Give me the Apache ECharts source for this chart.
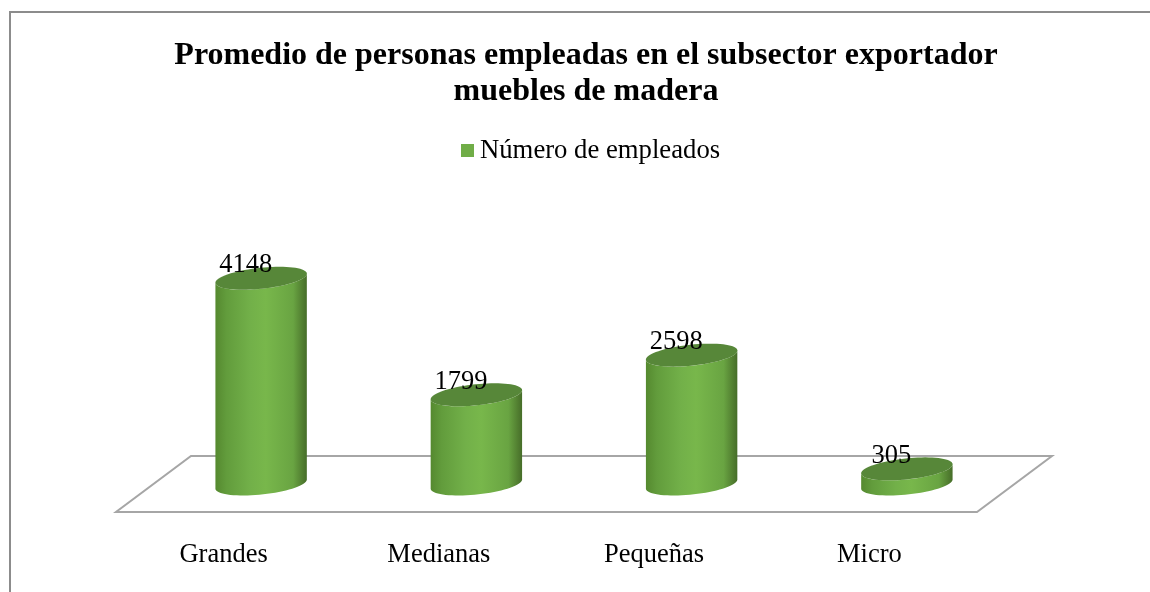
<!DOCTYPE html>
<html>
<head>
<meta charset="utf-8">
<style>html,body{margin:0;padding:0;background:#fff}#c{width:1150px;height:592px}</style>
<script src="https://cdn.jsdelivr.net/npm/echarts@6/dist/echarts.min.js"></script>
</head>
<body>
<div id="c"></div>
<script>
const categories = ['Grandes', 'Medianas', 'Pequeñas', 'Micro'];
const employees = [4148, 1799, 2598, 305];
const seriesName = 'Número de empleados';
const chartTitle = 'Promedio de personas empleadas en el subsector exportador\nmuebles de madera';

const FONT = '"Liberation Serif", "Times New Roman", serif';
const DEPTH_X = 75, DEPTH_Y = -56;
const RX = 46, RY = 10.5, TILT = 0.105;

function ellipsePoint(cx, cy, t) {
  const ex = RX * Math.cos(t), ey = RY * Math.sin(t);
  return [cx + ex * Math.cos(TILT) + ey * Math.sin(TILT),
          cy - ex * Math.sin(TILT) + ey * Math.cos(TILT)];
}
function ellipsePoly(cx, cy) {
  const p = [];
  for (let i = 0; i < 72; i++) p.push(ellipsePoint(cx, cy, i / 72 * Math.PI * 2));
  return p;
}
function bodyPoly(cx, top, base) {
  const tan = Math.atan2(-RY * Math.sin(TILT), RX * Math.cos(TILT));
  const p = [];
  for (let i = 0; i <= 36; i++) p.push(ellipsePoint(cx, base, tan + i / 36 * Math.PI));
  for (let i = 0; i <= 36; i++) p.push(ellipsePoint(cx, top, tan + Math.PI - i / 36 * Math.PI));
  return p;
}
const bodyFill = new echarts.graphic.LinearGradient(0, 0, 1, 0, [
  { offset: 0, color: '#55892f' },
  { offset: 0.12, color: '#629c3c' },
  { offset: 0.38, color: '#72b049' },
  { offset: 0.55, color: '#78b74b' },
  { offset: 0.85, color: '#69a442' },
  { offset: 0.95, color: '#527f31' },
  { offset: 1, color: '#466d29' }
]);

function renderFloor(params, api) {
  const cs = params.coordSys;
  const y = cs.y + cs.height;
  return {
    type: 'polygon',
    shape: { points: [[cs.x, y], [cs.x + cs.width, y],
                      [cs.x + cs.width + DEPTH_X, y + DEPTH_Y], [cs.x + DEPTH_X, y + DEPTH_Y]] },
    style: { fill: 'transparent', stroke: '#a6a6a6', lineWidth: 2 },
    silent: true
  };
}
function renderCylinder(params, api) {
  const topPt = api.coord([api.value(0), api.value(1)]);
  const basePt = api.coord([api.value(0), 0]);
  const cx = topPt[0] + DEPTH_X / 2, top = topPt[1] + DEPTH_Y / 2, base = basePt[1] + DEPTH_Y / 2;
  return {
    type: 'group',
    children: [
      { type: 'polygon', shape: { points: bodyPoly(cx, top, base) }, style: { fill: bodyFill } },
      { type: 'polygon', shape: { points: ellipsePoly(cx, top) }, style: { fill: '#578739' } },
      { type: 'text', style: {
          x: cx - 15.5, y: top - 13, text: String(api.value(1)), fill: '#000',
          font: '26.5px ' + FONT, align: 'center', verticalAlign: 'middle' } }
    ]
  };
}

const chart = echarts.init(document.getElementById('c'), null, { renderer: 'canvas' });
chart.setOption({
  animation: false,
  backgroundColor: '#fff',
  title: {
    text: chartTitle, left: 581, textAlign: 'center', top: 33,
    textStyle: { fontFamily: FONT, fontSize: 32, fontWeight: 'bold', color: '#000', lineHeight: 36 }
  },
  legend: {
    show: true, data: [{ name: seriesName, icon: 'rect' }], left: 456, top: 132,
    itemWidth: 13, itemHeight: 13, itemGap: 0,
    textStyle: { fontFamily: FONT, fontSize: 26.7, color: '#000', padding: [10, 0, 0, 1] }
  },
  grid: { left: 116, width: 861, top: 264, height: 248 },
  xAxis: {
    type: 'category', data: categories,
    axisLine: { show: false }, axisTick: { show: false },
    axisLabel: { color: '#000', fontFamily: FONT, fontSize: 26.5, margin: 30 }
  },
  yAxis: { type: 'value', min: 0, max: 5000, show: false, splitLine: { show: false } },
  graphic: [{
    type: 'polyline', silent: true,
    shape: { points: [[10, 592], [10, 12], [1150, 12]] },
    style: { fill: 'none', stroke: '#8c8c8c', lineWidth: 2 }
  }],
  series: [
    { type: 'custom', name: 'floor', silent: true, renderItem: renderFloor, data: [[0, 0]], clip: false, z: 1 },
    {
      type: 'custom', name: seriesName, renderItem: renderCylinder, clip: false, z: 2,
      itemStyle: { color: '#70ad47' },
      encode: { x: 0, y: 1 },
      data: employees.map((v, i) => [i, v])
    }
  ]
});
</script>
</body>
</html>
